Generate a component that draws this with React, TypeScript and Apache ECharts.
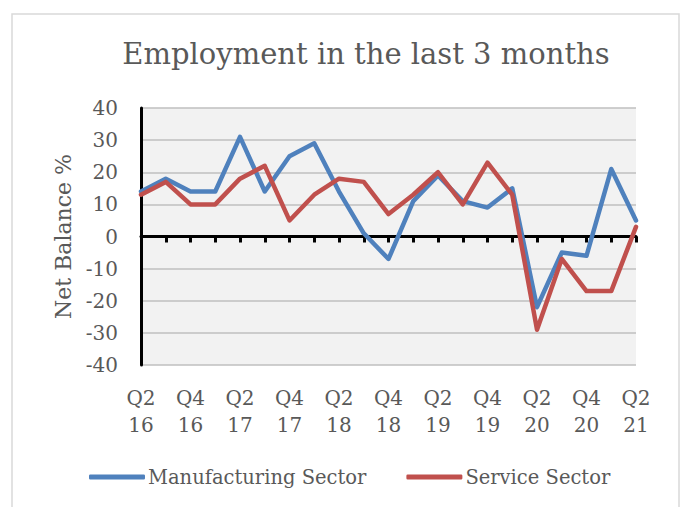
import React, { useEffect, useRef } from "react";
import * as echarts from "echarts";

const quarters = [
  "Q2 16", "Q3 16", "Q4 16", "Q1 17", "Q2 17", "Q3 17", "Q4 17",
  "Q1 18", "Q2 18", "Q3 18", "Q4 18", "Q1 19", "Q2 19", "Q3 19",
  "Q4 19", "Q1 20", "Q2 20", "Q3 20", "Q4 20", "Q1 21", "Q2 21",
];
const manufacturing = [14, 18, 14, 14, 31, 14, 25, 29, 14, 1, -7, 11, 19, 11, 9, 15, -22, -5, -6, 21, 5];
const service = [13, 17, 10, 10, 18, 22, 5, 13, 18, 17, 7, 13, 20, 10, 23, 13, -29, -7, -17, -17, 3];
const seriesNames = ["Manufacturing Sector", "Service Sector"];
const titleText = "Employment in the last 3 months";
const yAxisName = "Net Balance %";

const FONT = "DejaVu Serif";
const TEXT = "#595959";

export default function App() {
  const ref = useRef<HTMLDivElement>(null);
  useEffect(() => {
    if (!ref.current) return;
    const chart = echarts.init(ref.current, undefined, { renderer: "svg" });
    chart.setOption({
      animation: false,
      backgroundColor: "#ffffff",
      title: {
        text: titleText,
        left: 366,
        top: 39,
        padding: 0,
        textAlign: "center",
        textStyle: { fontFamily: FONT, fontSize: 29, fontWeight: "normal", color: TEXT },
      },
      graphic: [
        {
          type: "rect",
          shape: { x: 12, y: 14, width: 667, height: 520 },
          style: { fill: "none", stroke: "#D9D9D9", lineWidth: 1.5 },
          silent: true,
        },
      ],
      legend: {
        left: 89,
        top: 467,
        padding: 0,
        icon: "roundRect",
        itemWidth: 56,
        itemHeight: 5,
        itemGap: 40,
        textStyle: { fontFamily: FONT, fontSize: 19.5, color: TEXT, padding: [0, 0, 0, -2] },
        data: seriesNames,
      },
      grid: {
        left: 141,
        right: 52,
        top: 108,
        bottom: 142,
        show: true,
        backgroundColor: "#F2F2F2",
        borderWidth: 0,
        containLabel: false,
      },
      xAxis: [
        {
          type: "category",
          data: quarters,
          boundaryGap: false,
          position: "bottom",
          axisLine: { show: false, onZero: false },
          axisTick: { show: false },
          axisLabel: {
            interval: 1,
            margin: 19,
            fontFamily: FONT,
            fontSize: 20,
            lineHeight: 27,
            color: TEXT,
            formatter: (v: string) => v.replace(" ", "\n"),
          },
        },
        {
          type: "category",
          data: quarters,
          boundaryGap: false,
          position: "top",
          axisLine: { show: true, onZero: true, lineStyle: { color: "#000000", width: 3 } },
          axisTick: { show: true, inside: true, interval: 0, length: 6, lineStyle: { color: "#000000", width: 3 } },
          axisLabel: { show: false },
          splitLine: { show: false },
        },
      ],
      yAxis: {
        type: "value",
        min: -40,
        max: 40,
        interval: 10,
        name: yAxisName,
        nameLocation: "middle",
        nameGap: 64,
        nameTextStyle: { fontFamily: FONT, fontSize: 22, color: TEXT },
        axisLine: { show: true, onZero: false, lineStyle: { color: "#000000", width: 3 } },
        axisTick: { show: false },
        axisLabel: { margin: 23, fontFamily: FONT, fontSize: 20, color: TEXT },
        splitLine: { show: true, lineStyle: { color: "#BFBFBF", width: 1.5 } },
      },
      series: [
        {
          name: seriesNames[0],
          type: "line",
          data: manufacturing,
          symbol: "none",
          xAxisIndex: 0,
          lineStyle: { color: "#4F81BD", width: 4.5, cap: "round", join: "round" },
          itemStyle: { color: "#4F81BD" },
        },
        {
          name: seriesNames[1],
          type: "line",
          data: service,
          symbol: "none",
          xAxisIndex: 0,
          lineStyle: { color: "#C0504D", width: 4.5, cap: "round", join: "round" },
          itemStyle: { color: "#C0504D" },
        },
      ],
    });
    return () => chart.dispose();
  }, []);
  return (
    <div
      ref={ref}
      style={{ position: "fixed", left: 0, top: 0, width: 688, height: 507 }}
    />
  );
}
